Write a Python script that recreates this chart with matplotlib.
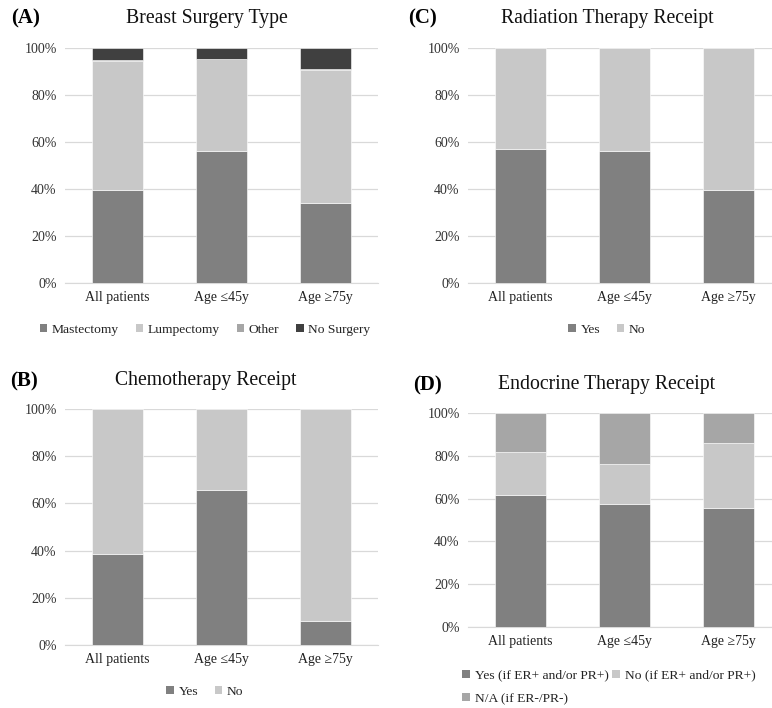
import numpy as np
import matplotlib
matplotlib.use("Agg")
import matplotlib.pyplot as plt
from matplotlib.patches import Patch

# ----------------------------------------
# data (percent of patients)
# ----------------------------------------
groups = ["All patients", "Age \u226445y", "Age \u226575y"]

surgery_labels = ["Mastectomy", "Lumpectomy", "Other", "No Surgery"]
mastectomy = [39.6, 56.0, 34.0]
lumpectomy = [55.0, 39.2, 56.8]
other_surg = [0.2, 0.1, 0.2]
no_surgery = [5.2, 4.7, 9.0]

chemo_labels = ["Yes", "No"]
chemo_yes = [38.5, 65.8, 10.0]
chemo_no = [61.5, 34.2, 90.0]

rad_labels = ["Yes", "No"]
rad_yes = [57.0, 56.0, 39.5]
rad_no = [43.0, 44.0, 60.5]

endo_labels = ["Yes (if ER+ and/or PR+)", "No (if ER+ and/or PR+)", "N/A (if ER-/PR-)"]
endo_yes = [61.5, 57.5, 55.8]
endo_no = [20.5, 18.5, 30.4]
endo_na = [18.0, 24.0, 13.8]

DARK = "#808080"
LIGHT = "#c8c8c8"
MID = "#a6a6a6"
BLACK = "#404040"

plt.rcParams['font.family'] = ['Liberation Serif', 'DejaVu Serif']

W, H = 772, 708
fig = plt.figure(figsize=(W / 100, H / 100), dpi=100)

LEG_FS = 9.7
TICK_FS = 10


def px_axes(left, top, right, bottom):
    return fig.add_axes([left / W, 1 - bottom / H, (right - left) / W, (bottom - top) / H])


def stacked(ax, series, colors):
    x = np.arange(len(groups))
    base = np.zeros(len(groups))
    for vals, c in zip(series, colors):
        ax.bar(x, vals, 0.49, bottom=base, color=c, edgecolor="white", linewidth=0.4, zorder=3)
        base += np.array(vals)
    ax.set_xlim(-0.5, 2.5)
    ax.set_ylim(0, 100)
    ax.set_yticks(np.arange(0, 101, 20))
    ax.set_yticklabels(["%d%%" % v for v in range(0, 101, 20)], fontsize=TICK_FS, color="#333333")
    ax.set_xticks(x)
    ax.set_xticklabels(groups, fontsize=TICK_FS, color="#222222")
    ax.tick_params(length=0, pad=6)
    ax.grid(axis="y", color="#d9d9d9", linewidth=0.9, zorder=0)
    for s in ["top", "right", "left"]:
        ax.spines[s].set_visible(False)
    ax.spines["bottom"].set_color("#d9d9d9")
    ax.spines["bottom"].set_zorder(1)


def legend(ax, labels, colors, y, ncol, xc=0.5, loc="center"):
    handles = [Patch(facecolor=c, edgecolor="none", label=l) for l, c in zip(labels, colors)]
    ax.legend(handles=handles, loc=loc, bbox_to_anchor=(xc, y), bbox_transform=fig.transFigure,
              ncol=ncol, frameon=False, fontsize=LEG_FS, handlelength=0.55, handleheight=0.55,
              handletextpad=0.35, columnspacing=1.25, borderaxespad=0, labelcolor="#222222")


def title(xc, yc, label, lx, text):
    fig.text(xc / W, 1 - yc / H, text, fontsize=14.2, ha="center", va="center", color="#111111")
    fig.text(lx / W, 1 - yc / H, label, fontsize=15, fontweight="bold", ha="center", va="center")


# (A) breast surgery
axA = px_axes(65, 48, 378, 283)
stacked(axA, [mastectomy, lumpectomy, other_surg, no_surgery], [DARK, LIGHT, MID, BLACK])
legend(axA, surgery_labels, [DARK, LIGHT, MID, BLACK], 1 - 330 / H, 4, xc=205 / W)
title(207, 18, "(A)", 26, "Breast Surgery Type")

# (C) radiation
axC = px_axes(468, 48, 781, 283)
stacked(axC, [rad_yes, rad_no], [DARK, LIGHT])
legend(axC, rad_labels, [DARK, LIGHT], 1 - 330 / H, 2, xc=607 / W)
title(607, 18, "(C)", 422, "Radiation Therapy Receipt")

# (B) chemo
axB = px_axes(65, 409, 378, 645)
stacked(axB, [chemo_yes, chemo_no], [DARK, LIGHT])
legend(axB, chemo_labels, [DARK, LIGHT], 1 - 692 / H, 2, xc=205 / W)
title(206, 381, "(B)", 24, "Chemotherapy Receipt")

# (D) endocrine
axD = px_axes(468, 413, 781, 627)
stacked(axD, [endo_yes, endo_no, endo_na], [DARK, LIGHT, MID])
handles = [Patch(facecolor=c, edgecolor="none", label=l)
           for l, c in zip([endo_labels[0], endo_labels[2], endo_labels[1]], [DARK, MID, LIGHT])]
axD.legend(handles=handles, loc="upper left", bbox_to_anchor=(457 / W, 1 - 664 / H),
           bbox_transform=fig.transFigure, ncol=2, frameon=False, fontsize=LEG_FS,
           handlelength=0.55, handleheight=0.55, handletextpad=0.35, columnspacing=0.3,
           labelspacing=0.85, borderaxespad=0, labelcolor="#222222")
title(607, 385, "(D)", 427, "Endocrine Therapy Receipt")

fig.savefig("out.png", dpi=100, facecolor="white")
